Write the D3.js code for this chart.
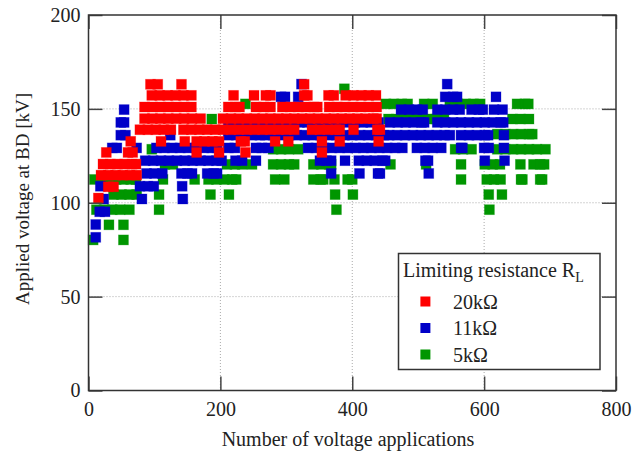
<!DOCTYPE html>
<html>
<head>
<meta charset="utf-8">
<script src="https://cdn.jsdelivr.net/npm/d3@7"></script>
<style>
  body { margin: 0; background: #fff; }
  text { font-family: "Liberation Serif", "Times New Roman", serif; fill: #222; }
</style>
</head>
<body>
<script>
// axis ticks
let xTicks = [0, 200, 400, 600, 800];
let yTicks = [0, 50, 100, 150, 200];

// each row: [voltage kV, [application numbers]]
let red20k = [
    [163.1, [94, 105, 141, 327]],
    [157.2, [96, 108, 120, 132, 144, 156, 220, 251, 269, 276, 327, 332, 364, 372, 390, 402, 414, 425, 436]],
    [151.0, [85, 97, 109, 121, 133, 145, 156, 212, 223, 229, 254, 266, 276, 294, 306, 318, 330, 342, 347, 365, 377, 389, 401, 413, 425, 437]],
    [144.8, [85, 97, 109, 121, 133, 145, 157, 170, 204, 216, 228, 240, 252, 264, 276, 288, 300, 312, 324, 336, 348, 360, 372, 384, 396, 408, 420, 432, 437]],
    [138.9, [78, 90, 102, 114, 125, 144, 156, 168, 180, 192, 204, 216, 228, 240, 252, 264, 276, 288, 300, 312, 339, 351, 363, 375, 381, 402, 438, 442]],
    [132.7, [64, 110, 146, 164, 176, 188, 198, 231, 237, 283, 303, 354, 381, 440]],
    [126.8, [27, 60, 67, 164, 198, 238, 354]],
    [120.6, [22, 33, 44, 55, 66, 72]],
    [114.7, [19, 30, 41, 52, 63, 73]],
    [108.5, [30, 38]],
    [102.5, [15]]
];

let blue11k = [
    [163.2, [323, 544]],
    [156.4, [292, 298, 318, 541, 553, 559, 618]],
    [149.6, [54, 474, 486, 498, 507, 529, 541, 553, 563, 581, 592, 598, 615, 628]],
    [142.8, [49, 54, 212, 224, 236, 248, 260, 272, 284, 296, 308, 320, 332, 344, 356, 368, 380, 392, 404, 416, 428, 440, 457, 469, 481, 493, 505, 509, 529, 541, 553, 565, 577, 589, 601, 613, 625, 629]],
    [136.0, [49, 56, 124, 212, 224, 236, 248, 260, 268, 280, 292, 304, 316, 328, 340, 352, 364, 376, 388, 400, 412, 424, 436, 448, 456, 468, 480, 492, 504, 516, 528, 540, 548, 565, 577, 589, 601, 606, 630]],
    [129.2, [36, 43, 73, 103, 115, 127, 139, 151, 163, 175, 187, 195, 212, 222, 254, 263, 273, 333, 345, 357, 369, 381, 393, 405, 417, 429, 441, 453, 465, 476, 498, 510, 522, 535, 565, 567, 600, 607, 630]],
    [122.4, [86, 98, 110, 122, 134, 146, 158, 170, 182, 194, 202, 223, 233, 254, 351, 361, 368, 389, 410, 422, 434, 446, 450, 511, 515, 601, 631]],
    [115.6, [88, 100, 112, 141, 150, 157, 180, 190, 195, 368, 411, 439, 442, 516]],
    [108.8, [18, 78, 90, 99, 142]],
    [102.0, [23, 81, 143]],
    [95.2, [17, 25]],
    [88.4, [11]],
    [81.6, [11]]
];

let green5k = [
    [160.7, [388]],
    [152.65, [238, 451, 463, 475, 484, 509, 522, 548, 560, 572, 584, 594, 650, 662, 667]],
    [144.6, [187, 455, 467, 479, 491, 503, 515, 527, 539, 643, 655, 668]],
    [136.55, [620, 632, 644, 656, 668, 673]],
    [128.5, [96, 280, 292, 304, 318, 556, 568, 581, 620, 632, 644, 656, 668, 680, 693]],
    [120.45, [116, 128, 210, 222, 233, 248, 280, 292, 304, 312, 341, 353, 365, 368, 458, 512, 565, 601, 613, 624, 655, 675, 685, 691]],
    [112.4, [9, 20, 31, 42, 53, 64, 72, 113, 161, 182, 194, 206, 218, 224, 283, 297, 341, 352, 356, 373, 393, 400, 565, 604, 615, 625, 656, 658, 685, 688]],
    [104.35, [38, 50, 62, 73, 107, 185, 213, 374, 401, 607, 627]],
    [96.3, [12, 24, 36, 48, 62, 107, 376, 608]],
    [88.25, [31, 53]],
    [80.2, [7, 53]]
];

let series = [
    {name: "5kΩ", color: "#009600", rows: green5k},
    {name: "11kΩ", color: "#0000c8", rows: blue11k},
    {name: "20kΩ", color: "#ff0000", rows: red20k}
];

let margin = {top: 15, left: 88.5},
    width = 527.5,
    height = 375.5,
    msize = 10;

let x = d3.scaleLinear().domain([0, 800]).range([0, width]);
let y = d3.scaleLinear().domain([0, 200]).range([height, 0]);

let svg = d3.select("body").append("svg")
    .attr("width", 633)
    .attr("height", 462);

let g = svg.append("g")
    .attr("transform", "translate(" + margin.left + "," + margin.top + ")");

// dotted grid
g.selectAll(".gx").data(xTicks.slice(1, -1)).enter().append("line")
    .attr("x1", d => x(d)).attr("x2", d => x(d))
    .attr("y1", 0).attr("y2", height)
    .attr("stroke", "#aaa").attr("stroke-dasharray", "1,2");
g.selectAll(".gy").data(yTicks.slice(1, -1)).enter().append("line")
    .attr("y1", d => y(d)).attr("y2", d => y(d))
    .attr("x1", 0).attr("x2", width)
    .attr("stroke", "#aaa").attr("stroke-dasharray", "1,2");

// markers, green below blue below red
series.forEach(function (s) {
    let pts = [];
    s.rows.forEach(function (r) {
        r[1].forEach(function (n) { pts.push([n, r[0]]); });
    });
    g.append("g").selectAll("rect").data(pts).enter().append("rect")
        .attr("x", d => x(d[0]) - msize / 2)
        .attr("y", d => y(d[1]) - msize / 2)
        .attr("width", msize)
        .attr("height", msize)
        .attr("fill", s.color)
        .attr("stroke", s.color)
        .attr("stroke-opacity", 0.35)
        .attr("stroke-width", 0.8);
});

// axes with inward ticks
function styleAxis(sel) {
    sel.select(".domain").remove();
    sel.selectAll(".tick line").attr("stroke", "#444").attr("stroke-width", 1.5);
    sel.selectAll("text").style("font-family", '"Liberation Serif", "Times New Roman", serif')
        .style("font-size", "20px").attr("fill", "#222");
}

g.append("g")
    .attr("transform", "translate(0," + height + ")")
    .call(d3.axisBottom(x).tickValues(xTicks).tickSize(-14).tickPadding(11))
    .call(styleAxis);
g.append("g")
    .call(d3.axisLeft(y).tickValues(yTicks).tickSize(-14).tickPadding(8))
    .call(styleAxis);
g.append("g")
    .call(d3.axisTop(x).tickValues(xTicks).tickSize(-14).tickFormat(""))
    .call(styleAxis);
g.append("g")
    .attr("transform", "translate(" + width + ",0)")
    .call(d3.axisRight(y).tickValues(yTicks).tickSize(-14).tickFormat(""))
    .call(styleAxis);

g.append("rect")
    .attr("width", width).attr("height", height)
    .attr("fill", "none").attr("stroke", "#333").attr("stroke-width", 1.5);

// axis titles
svg.append("text")
    .attr("x", 348).attr("y", 446)
    .attr("text-anchor", "middle")
    .style("font-size", "20px")
    .text("Number of voltage applications");

svg.append("text")
    .attr("transform", "translate(29,199) rotate(-90)")
    .attr("text-anchor", "middle")
    .style("font-size", "19px")
    .text("Applied voltage at BD [kV]");

// legend
let legend = svg.append("g");
legend.append("rect")
    .attr("x", 398.5).attr("y", 253.5)
    .attr("width", 201.5).attr("height", 116)
    .attr("fill", "#fff").attr("stroke", "#333").attr("stroke-width", 1.5);

let lt = legend.append("text")
    .attr("x", 403).attr("y", 277)
    .style("font-size", "20px");
lt.append("tspan").text("Limiting resistance R");
lt.append("tspan").attr("dy", 5).style("font-size", "14px").text("L");

let legendItems = series.slice().reverse();
legendItems.forEach(function (s, i) {
    let cy = 301.5 + i * 26.5;
    legend.append("rect")
        .attr("x", 425.4 - msize / 2).attr("y", cy - msize / 2)
        .attr("width", msize).attr("height", msize)
        .attr("fill", s.color);
    legend.append("text")
        .attr("x", 453).attr("y", cy + 7)
        .style("font-size", "20px")
        .text(s.name);
});
</script>
</body>
</html>
